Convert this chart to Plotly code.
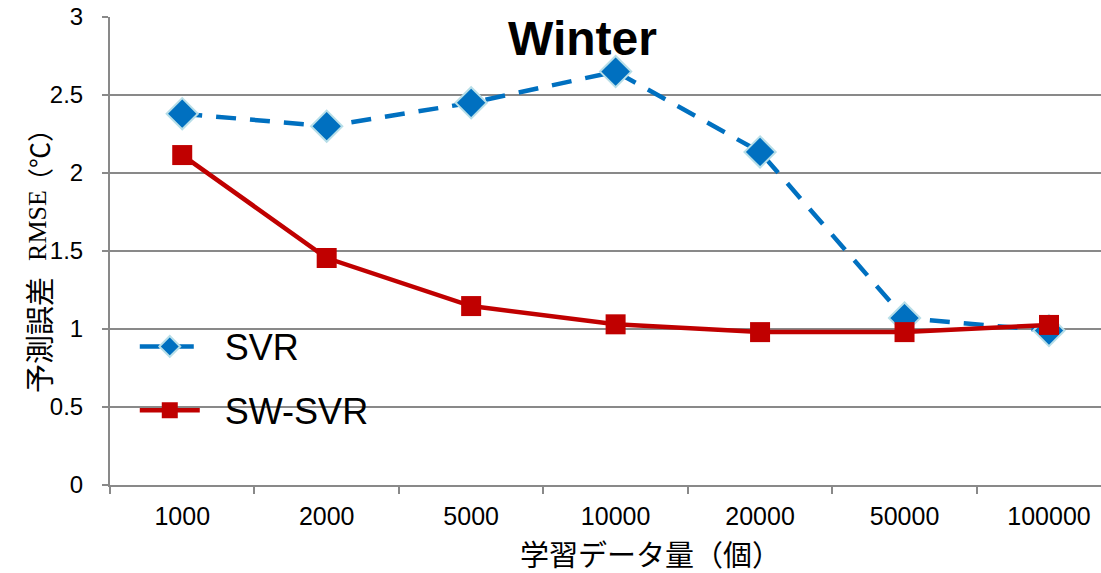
import plotly.graph_objects as go

categories = ["1000", "2000", "5000", "10000", "20000", "50000", "100000"]
svr = [2.38, 2.30, 2.45, 2.65, 2.135, 1.07, 0.99]
sw_svr = [2.115, 1.455, 1.147, 1.03, 0.98, 0.98, 1.026]

fig = go.Figure()
fig.add_trace(go.Scatter(
    x=categories, y=svr, name="&nbsp;&nbsp;SVR", mode="lines+markers", legendgroup="a",
    line=dict(color="#0070C0", width=4.5, dash="20px,14px"),
    marker=dict(symbol="diamond", size=24, color="#0070C0",
                line=dict(color="#B7DEE8", width=2)),
))
fig.add_trace(go.Scatter(
    x=categories, y=sw_svr, name="&nbsp;&nbsp;SW-SVR", mode="lines+markers", legendgroup="b",
    line=dict(color="#C00000", width=4.5),
    marker=dict(symbol="square", size=20, color="#C00000"),
))

font_main = "Liberation Sans, Arial, Noto Sans CJK JP"
fig.update_layout(
    width=1101, height=573,
    margin=dict(l=110, r=0, t=17, b=88),
    paper_bgcolor="white", plot_bgcolor="white",
    font=dict(family=font_main, color="#000000", size=24),
    showlegend=True,
    legend=dict(x=0.025, y=0.36, xanchor="left", yanchor="top",
                bgcolor="rgba(255,255,255,0)", font=dict(size=36, color="#000000"),
                tracegroupgap=14, itemwidth=60),
    xaxis=dict(type="category", range=[-0.5, 6.36],
               showline=True, linecolor="#898989", linewidth=2,
               ticks="outside", tickson="boundaries", ticklen=7,
               tickcolor="#898989", tickwidth=2, showgrid=False,
               tickfont=dict(size=25, color="#000000"), ticklabelstandoff=8,
               ticklabeloverflow="allow", automargin=False),
    yaxis=dict(range=[0, 3], tickvals=[0, 0.5, 1, 1.5, 2, 2.5, 3],
               ticktext=["0", "0.5", "1", "1.5", "2", "2.5", "3"],
               showline=True, linecolor="#898989", linewidth=2,
               ticks="outside", ticklen=6, tickcolor="#898989", tickwidth=2,
               showgrid=True, gridcolor="#898989", gridwidth=2,
               zeroline=False, tickfont=dict(size=24, color="#000000"),
               ticklabelstandoff=14, ticklabeloverflow="allow", automargin=False),
)

# white backdrop behind the legend labels (hides part of a gridline, as in the original)
fig.add_shape(type="rect", xref="paper", yref="paper", layer="between",
              x0=0.106, x1=0.373, y0=0.13, y1=0.2,
              fillcolor="white", line=dict(width=0))

fig.add_annotation(text="<b>Winter</b>", xref="paper", yref="paper",
                   x=0.477, y=0.955, xanchor="center", yanchor="middle",
                   showarrow=False,
                   font=dict(size=48, family="Liberation Sans, Arial", color="#000000"))

# y-axis title in three parts (different fonts)
ytitle_parts = [("予測誤差", "Noto Sans CJK JP", 29, 0.3205),
                ("RMSE", "Liberation Serif", 26, 0.5556),
                ("（℃）", "Noto Sans CJK JP", 26, 0.705)]
for txt, fam, sz, ypos in ytitle_parts:
    fig.add_annotation(text=txt, xref="paper", yref="paper", x=-0.0727, y=ypos,
                       xanchor="center", yanchor="middle", textangle=-90,
                       showarrow=False, font=dict(size=sz, family=fam, color="#000000"))

fig.add_annotation(text="学習データ量（個）", xref="paper", yref="paper",
                   x=0.545, y=-0.145, xanchor="center", yanchor="middle",
                   showarrow=False,
                   font=dict(size=29, family="Noto Sans CJK JP", color="#000000"))

fig.write_html("out.html", config={"displayModeBar": False},
               post_script="document.body.style.margin='0';")
